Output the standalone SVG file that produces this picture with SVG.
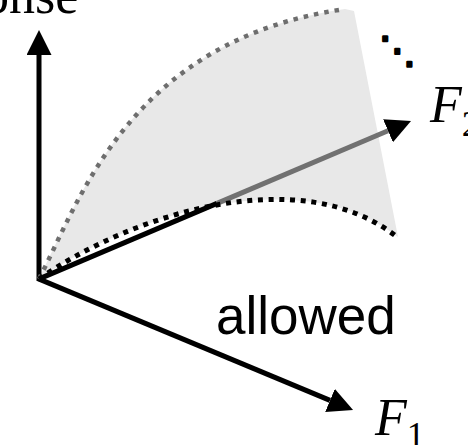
<svg xmlns="http://www.w3.org/2000/svg" width="468" height="445" viewBox="0 0 468 445">
<style>
.serif{font-family:"Liberation Serif","Times New Roman",serif;fill:#000}
.it{font-style:italic}
.sans{font-family:"Liberation Sans",Arial,sans-serif;fill:#000}
.axis{stroke:#000;stroke-width:5;fill:none}
</style>
<defs>
<marker id="ah" viewBox="0 -12.5 25 25" markerWidth="25" markerHeight="25" refX="0" refY="0" markerUnits="userSpaceOnUse" orient="auto">
<path d="M0,-12.5 L25,0 L0,12.5 Z" fill="#000"/>
</marker>
</defs>
<g id="region">
<path d="M39,279 C80,200 130,40 345,9 L354,11 L398,237 C300,160 130,215 39,279 Z" fill="#e8e8e8"/>
</g>
<g id="connectors">
<line class="axis" x1="39" y1="281" x2="39" y2="55" marker-end="url(#ah)"/>
<line class="axis" x1="38" y1="278.6" x2="330" y2="400.4" marker-end="url(#ah)"/>
<line class="axis" x1="38" y1="279.4" x2="217" y2="203.4"/>
<line x1="217" y1="203.4" x2="388" y2="130.8" stroke="#717171" stroke-width="5" marker-end="url(#ah)"/>
<path d="M39,279 C80,200 130,40 345,9" fill="none" stroke="#6e6e6e" stroke-width="4.5" stroke-dasharray="4.5 6"/>
<path d="M39,279 C130,215 300,160 397,237" fill="none" stroke="#000" stroke-width="5" stroke-dasharray="5 5.7"/>
</g>
<g id="labels">
<text x="379" y="63" font-size="37" font-family="DejaVu Sans,sans-serif" fill="#000" stroke="#000" stroke-width="2.5" stroke-linejoin="round">⋱</text>
<text class="serif" x="-17" y="13" font-size="52">onse</text>
<text class="serif it" x="430" y="122" font-size="52">F<tspan font-style="normal" font-size="36" dy="14">2</tspan></text>
<text class="serif it" x="375" y="435" font-size="52">F<tspan font-style="normal" font-size="36" dy="12">1</tspan></text>
<text class="sans" x="216" y="334" font-size="53">allowed</text>
</g>
</svg>
